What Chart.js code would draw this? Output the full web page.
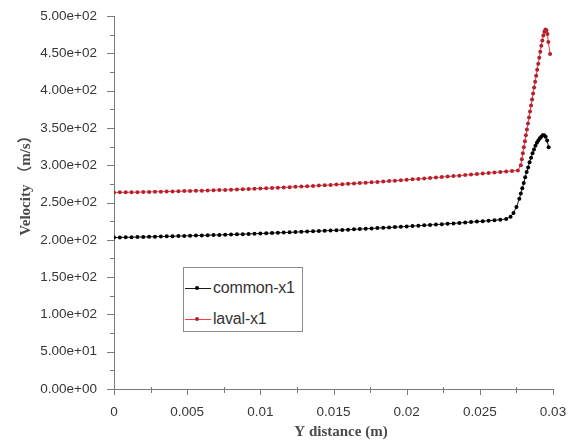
<!DOCTYPE html>
<html>
<head>
<meta charset="utf-8">
<script src="https://cdn.jsdelivr.net/npm/chart.js@4.4.1/dist/chart.umd.min.js"></script>
<style>
  html, body { margin: 0; padding: 0; background: #fff; }
  #wrap { position: relative; width: 575px; height: 446px; }
  #legend {
    position: absolute; left: 183px; top: 267px; width: 120px; height: 65px;
    box-sizing: border-box; border: 1.5px solid #8a8a8a; background: #fff;
    padding-top: 4px; font-family: "Liberation Sans", Arial, sans-serif;
    font-size: 16px; color: #333;
  }
  .row { display: flex; align-items: center; height: 31px; }
  .sample { position: relative; width: 26px; height: 12px; margin-left: 1px; }
  .sample .ln { position: absolute; left: 0; right: 0; top: 6px; height: 1px; }
  .sample .dot { position: absolute; left: 10px; top: 4px; width: 4px; height: 4px; border-radius: 50%; }
  .row span.txt { margin-left: 2px; letter-spacing: -0.2px; }
</style>
</head>
<body>
<div id="wrap">
  <canvas id="c" width="575" height="446"></canvas>
  <div id="legend"></div>
</div>
<script>
// Sample positions along the flat part of the profile (m)
const flatX = [0, 0.0004, 0.0008, 0.0012, 0.0016, 0.002, 0.0024, 0.0028, 0.0032, 0.0036,
  0.004, 0.0044, 0.0048, 0.0052, 0.0056, 0.006, 0.0064, 0.0068, 0.0072, 0.0076,
  0.008, 0.0084, 0.0088, 0.0092, 0.0096, 0.01, 0.0104, 0.0108, 0.0112, 0.0116,
  0.012, 0.0124, 0.0128, 0.0132, 0.0136, 0.014, 0.0144, 0.0148, 0.0152, 0.0156,
  0.016, 0.0164, 0.0168, 0.0172, 0.0176, 0.018, 0.0184, 0.0188, 0.0192, 0.0196,
  0.02, 0.0204, 0.0208, 0.0212, 0.0216, 0.022, 0.0224, 0.0228, 0.0232, 0.0236,
  0.024, 0.0244, 0.0248, 0.0252, 0.0256, 0.026, 0.0264, 0.0268, 0.0272, 0.0276];

// common-x1 velocity (m/s), flat part then the rise near the wall
const commonFlat = [203.0, 203.2, 203.3, 203.5, 203.7, 203.8, 204.0, 204.2, 204.4, 204.6,
  204.8, 205.0, 205.2, 205.4, 205.6, 205.9, 206.1, 206.3, 206.6, 206.8,
  207.1, 207.3, 207.6, 207.9, 208.2, 208.5, 208.8, 209.1, 209.4, 209.7,
  210.0, 210.3, 210.7, 211.0, 211.4, 211.7, 212.1, 212.4, 212.8, 213.2,
  213.6, 214.0, 214.4, 214.8, 215.2, 215.7, 216.1, 216.5, 217.0, 217.4,
  217.9, 218.4, 218.9, 219.4, 219.9, 220.4, 220.9, 221.5, 222.0, 222.6,
  223.2, 223.8, 224.4, 225.0, 225.6, 226.3, 227.0, 227.8];
const commonTipX = [0.0271, 0.0273, 0.0275, 0.0277, 0.0278, 0.0279, 0.028, 0.0281, 0.0282, 0.0283,
  0.0284, 0.0285, 0.0286, 0.0287, 0.0288, 0.0289, 0.029, 0.0291, 0.0292, 0.0293,
  0.0294, 0.0295, 0.0296, 0.0297];
const commonTip = [231, 236, 244, 255, 262, 269, 276, 284, 291, 297,
  304, 310, 316, 321, 326, 330, 333, 336, 338, 340,
  340, 338, 333, 324];

// laval-x1 velocity (m/s)
const lavalFlat = [263.5, 263.6, 263.7, 263.8, 263.9, 264.1, 264.2, 264.4, 264.5, 264.7,
  264.9, 265.1, 265.3, 265.5, 265.7, 265.9, 266.2, 266.4, 266.7, 266.9,
  267.2, 267.5, 267.8, 268.1, 268.4, 268.8, 269.1, 269.5, 269.8, 270.2,
  270.6, 271.0, 271.4, 271.8, 272.2, 272.7, 273.1, 273.6, 274.0, 274.5,
  275.0, 275.5, 276.0, 276.5, 277.0, 277.6, 278.1, 278.7, 279.2, 279.8,
  280.4, 281.0, 281.6, 282.2, 282.8, 283.4, 284.1, 284.7, 285.4, 286.0,
  286.7, 287.4, 288.1, 288.8, 289.5, 290.2, 290.9, 291.6, 292.3, 293.0];
const lavalTipX = [0.0278, 0.02787, 0.02794, 0.02801, 0.02808, 0.02815, 0.02822, 0.02829, 0.02836, 0.02843,
  0.0285, 0.02857, 0.02864, 0.02871, 0.02878, 0.02885, 0.02892, 0.02899, 0.02906, 0.02913,
  0.0292, 0.02927, 0.02934, 0.02941, 0.02948, 0.02955, 0.02962, 0.02968, 0.0298];
const lavalTip = [300, 308, 316, 324, 332, 340, 348, 356, 364, 372,
  380, 388, 396, 404, 412, 420, 428, 436, 444, 452,
  460, 467, 474, 479, 482, 481, 476, 465, 449];

const seriesNames = ['common-x1', 'laval-x1'];
const xTickValues = [0, 0.005, 0.01, 0.015, 0.02, 0.025, 0.03];
const xTickLabels = ['0', '0.005', '0.01', '0.015', '0.02', '0.025', '0.03'];
const yTickValues = [0, 50, 100, 150, 200, 250, 300, 350, 400, 450, 500];

function toPoints(xs, ys) {
  return ys.map((y, i) => ({ x: xs[i], y: y }));
}
function sci(v) {
  const parts = v.toExponential(2).split('e');
  const sign = parts[1][0] === '-' ? '-' : '+';
  const exp = parts[1].replace(/^[+-]/, '').padStart(2, '0');
  return parts[0] + 'e' + sign + exp;
}

const commonData = toPoints(flatX, commonFlat).concat(toPoints(commonTipX, commonTip));
const lavalData = toPoints(flatX, lavalFlat).concat(toPoints(lavalTipX, lavalTip));

// outward axis ticks (major + minor) and the two axis titles
const axisDecor = {
  id: 'axisDecor',
  afterDraw(chart) {
    const ctx = chart.ctx;
    const xs = chart.scales.x, ys = chart.scales.y;
    const left = chart.chartArea.left, bottom = chart.chartArea.bottom;
    ctx.save();
    ctx.strokeStyle = '#7a7a7a';
    ctx.lineWidth = 1;
    ctx.beginPath();
    for (let k = 0; k <= 20; k++) {
      const py = Math.round(ys.getPixelForValue(k * 25)) + 0.5;
      const len = k % 2 === 0 ? 7 : 4;
      ctx.moveTo(left - len, py);
      ctx.lineTo(left, py);
    }
    for (let k = 0; k <= 12; k++) {
      const px = Math.round(xs.getPixelForValue(k * 0.0025)) + 0.5;
      if (k % 2 === 0) { ctx.moveTo(px, bottom); ctx.lineTo(px, bottom + 6); }
      else { ctx.moveTo(px, bottom - 2); ctx.lineTo(px, bottom + 4); }
    }
    ctx.stroke();

    ctx.fillStyle = '#4a4a4a';
    ctx.font = 'bold 15px "Liberation Serif", "Noto Sans CJK SC", serif';
    ctx.textAlign = 'center';
    ctx.textBaseline = 'middle';
    ctx.fillText('Y distance (m)', 341, 432);
    ctx.translate(26, 182);
    ctx.rotate(-Math.PI / 2);
    ctx.fillText('Velocity （m/s）', 0, 0);
    ctx.restore();
  }
};

const chart = new Chart(document.getElementById('c'), {
  type: 'line',
  data: {
    datasets: [
      {
        label: seriesNames[0], data: commonData,
        borderColor: '#1a1a1a', borderWidth: 1,
        pointBackgroundColor: '#000', pointBorderColor: '#000',
        pointRadius: 2, pointBorderWidth: 0, pointHoverRadius: 0,
        tension: 0
      },
      {
        label: seriesNames[1], data: lavalData,
        borderColor: '#ff3a3a', borderWidth: 1,
        pointBackgroundColor: '#b3222e', pointBorderColor: '#b3222e',
        pointRadius: 2, pointBorderWidth: 0, pointHoverRadius: 0,
        tension: 0
      }
    ]
  },
  options: {
    responsive: false,
    animation: false,
    events: [],
    layout: { padding: { top: 16, right: 22, left: 0, bottom: 0 } },
    plugins: { legend: { display: false }, tooltip: { enabled: false } },
    scales: {
      x: {
        type: 'linear', min: 0, max: 0.03,
        afterFit: s => { s.height = 57; s.paddingLeft = 0; s.paddingRight = 0; },
        afterBuildTicks: s => { s.ticks = xTickValues.map(v => ({ value: v })); },
        grid: { display: false, drawTicks: false },
        border: { display: true, color: '#7a7a7a', width: 1 },
        ticks: {
          padding: 15, color: '#363636', maxRotation: 0, autoSkip: false,
          font: { family: '"Liberation Sans", Arial, sans-serif', size: 13.5 },
          callback: (v, i) => xTickLabels[i]
        }
      },
      y: {
        type: 'linear', min: 0, max: 500,
        afterFit: s => { s.width = 114; s.paddingTop = 0; s.paddingBottom = 0; },
        afterBuildTicks: s => { s.ticks = yTickValues.map(v => ({ value: v })); },
        grid: { display: false, drawTicks: false },
        border: { display: true, color: '#7a7a7a', width: 1 },
        ticks: {
          padding: 17, color: '#363636', autoSkip: false,
          font: { family: '"Liberation Sans", Arial, sans-serif', size: 13.5 },
          callback: v => sci(v)
        }
      }
    }
  },
  plugins: [axisDecor]
});

// legend box built from the datasets
const legend = document.getElementById('legend');
chart.data.datasets.forEach(ds => {
  const row = document.createElement('div');
  row.className = 'row';
  row.innerHTML = '<div class="sample"><div class="ln" style="background:' + ds.borderColor +
    '"></div><div class="dot" style="background:' + ds.pointBackgroundColor +
    '"></div></div><span class="txt">' + ds.label + '</span>';
  legend.appendChild(row);
});
</script>
</body>
</html>
